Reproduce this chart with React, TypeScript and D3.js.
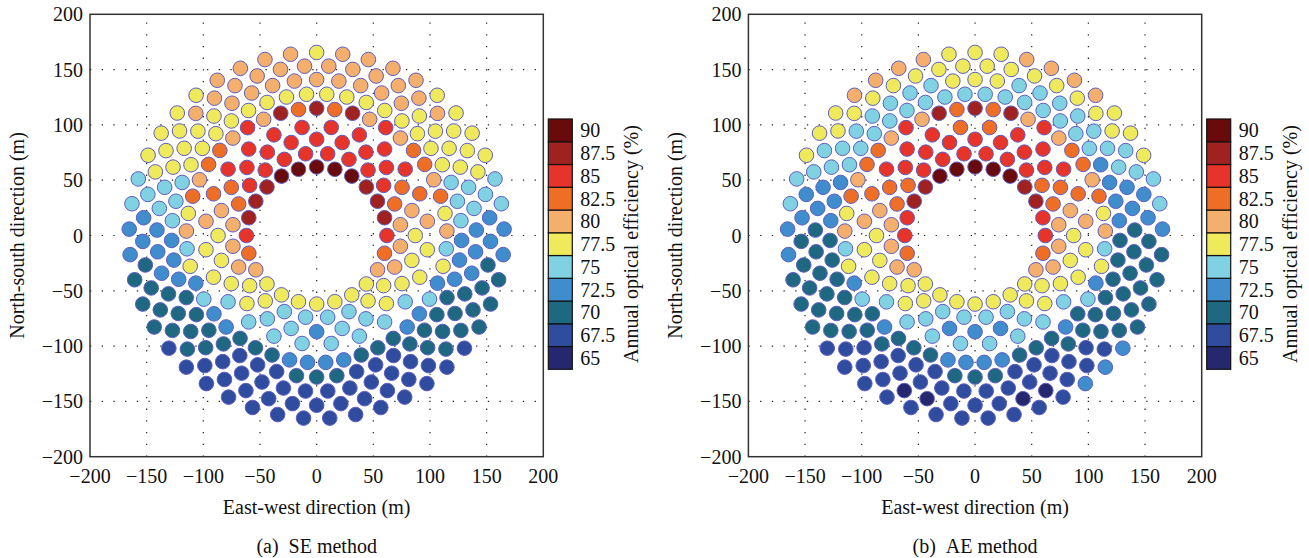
import React from 'react'
import * as d3 from 'd3'

const FONT = "'Liberation Serif', 'Times New Roman', serif"

// heliostat rings: radius (m), heliostats per ring, angle of the first one (deg, ccw from east)
const ringRadius = [62, 74.5, 87, 98.5, 115, 128, 141, 153.5, 165.5]
const ringCount = [24, 24, 24, 24, 45, 45, 45, 45, 45]
const ringStart = [0, 7.5, 0, 7.5, 2, 6, 2, 6, 2]

// efficiency class of each heliostat, ring by ring, going ccw from ringStart
// 0 = 65%, 1 = 67.5%, ... 9 = 87.5%, a = 90%
const seRings = [
  '8 999 aaaaa 999 8 7 6 5555555 6 7',
  '67 88888888 7 666 55 4444 55 66',
  '567 8888888 76 5555 44 3 44 555',
  '67 88888888 76 55 44444444 55',
  '657677686 979796867 767564534 332223333 222334354',
  '444 5555555555555555 444 333 2222 111 222 111 2222 333',
  '3 44 5555 666666666 5555 44 333 2222 1111111111 2222 33',
  '3 4 555 666666666666 555 4 33 22222 11111111111 22222 3',
  '3 44 5555 6666 5 6666 5555 44 33 222 11111111111111 222 3',
]

const aeRings = [
  '88 99 aaaaa 99 88 7 6 5555555 6 7',
  '677 888888 776 66 55 4444 55 66',
  '567 8888888 76 5555 4 333 4 555',
  '67 888 77 888 76 55 44444444 55',
  '657677686 979796867 767564534 232223333 222324354',
  '3333 444444444444444 333 2222222 111 222 111 2222222',
  '2 33 4444444 555 4444444 33 222222 111111111111 22222',
  '33 44 55555555555555 44 33 22222 111 00 111 00 111 22222',
  '3 44 555 6666 555 6666 555 44 33 222 11111111111 333 2222',
]

const levels = [65, 67.5, 70, 72.5, 75, 77.5, 80, 82.5, 85, 87.5, 90]
const levelColors = [
  '#25286e', '#2f4c9f', '#1f6882', '#3f8dcc', '#80d1e1', '#efe95c',
  '#f5af6d', '#ef6e26', '#e6342a', '#9f2220', '#690b0b',
]
const axisTicks = [-200, -150, -100, -50, 0, 50, 100, 150, 200]
const gridTicks = [-150, -100, -50, 0, 50, 100, 150]

const fmt = (t: number) => (t < 0 ? '\u2212' + Math.abs(t) : String(t))

function Panel({ left, rings, caption }: { left: number; rings: string[]; caption: string }) {
  const right = left + 453.3
  const x = d3.scaleLinear().domain([-200, 200]).range([left, right])
  const y = d3.scaleLinear().domain([-200, 200]).range([456.7, 14.3])
  const cb = d3.scaleBand<number>().domain(levels.slice().reverse()).range([119, 369.3])

  const pts: { x: number; y: number; level: number }[] = []
  ringRadius.forEach((r, i) => {
    const code = rings[i].replace(/\s/g, '')
    for (let k = 0; k < ringCount[i]; k++) {
      const a = ((ringStart[i] + (k * 360) / ringCount[i]) * Math.PI) / 180
      pts.push({ x: r * Math.cos(a), y: r * Math.sin(a), level: parseInt(code[k] ?? '4', 16) })
    }
  })

  const cx = (left + right) / 2
  return (
    <g fontFamily={FONT} fill="#111">
      {/* dotted grid */}
      {gridTicks.map((t) => (
        <g key={'g' + t} stroke="#222" strokeWidth={1.2} strokeDasharray="1.3 10.4">
          <line x1={x(t)} x2={x(t)} y1={y(-200)} y2={y(200)} />
          <line x1={left} x2={right} y1={y(t)} y2={y(t)} />
        </g>
      ))}

      {/* heliostats */}
      {pts.map((p, i) => (
        <circle
          key={i}
          cx={x(p.x)}
          cy={y(p.y)}
          r={7.3}
          fill={levelColors[p.level] ?? '#ccc'}
          stroke="#5d5dc2"
          strokeWidth={1}
        />
      ))}

      <rect x={left} y={y(200)} width={right - left} height={y(-200) - y(200)} fill="none" stroke="#333" strokeWidth={1.5} />

      {axisTicks.map((t) => (
        <text key={'x' + t} x={x(t)} y={483} fontSize={20} textAnchor="middle">
          {fmt(t)}
        </text>
      ))}
      {axisTicks.map((t) => (
        <text key={'y' + t} x={left - 7} y={y(t) + 7} fontSize={20} textAnchor="end">
          {fmt(t)}
        </text>
      ))}

      <text x={cx} y={514} fontSize={20} textAnchor="middle">
        East-west direction (m)
      </text>
      <text x={cx} y={553} fontSize={20} textAnchor="middle">
        {caption}
      </text>
      <text transform={`translate(${left - 66},235.5) rotate(-90)`} fontSize={20} textAnchor="middle">
        North-south direction (m)
      </text>

      {/* colour bar */}
      {levels.map((v, i) => (
        <g key={'c' + v}>
          <rect x={right + 5} y={cb(v)} width={24} height={cb.bandwidth()} fill={levelColors[i]} stroke="#111" strokeWidth={1.2} />
          <text x={right + 37} y={(cb(v) ?? 0) + cb.bandwidth() / 2 + 7} fontSize={20}>
            {String(v)}
          </text>
        </g>
      ))}
      <text transform={`translate(${right + 95},244) rotate(-90)`} fontSize={20} textAnchor="middle">
        Annual optical efficiency (%)
      </text>
    </g>
  )
}

export default function App() {
  return (
    <svg
      width={1309}
      height={558}
      style={{ position: 'absolute', left: 0, top: 0, background: '#fff' }}
    >
      <Panel left={90} rings={seRings} caption={'(a)\u00a0\u00a0SE method'} />
      <Panel left={748.4} rings={aeRings} caption={'(b)\u00a0\u00a0AE method'} />
    </svg>
  )
}
